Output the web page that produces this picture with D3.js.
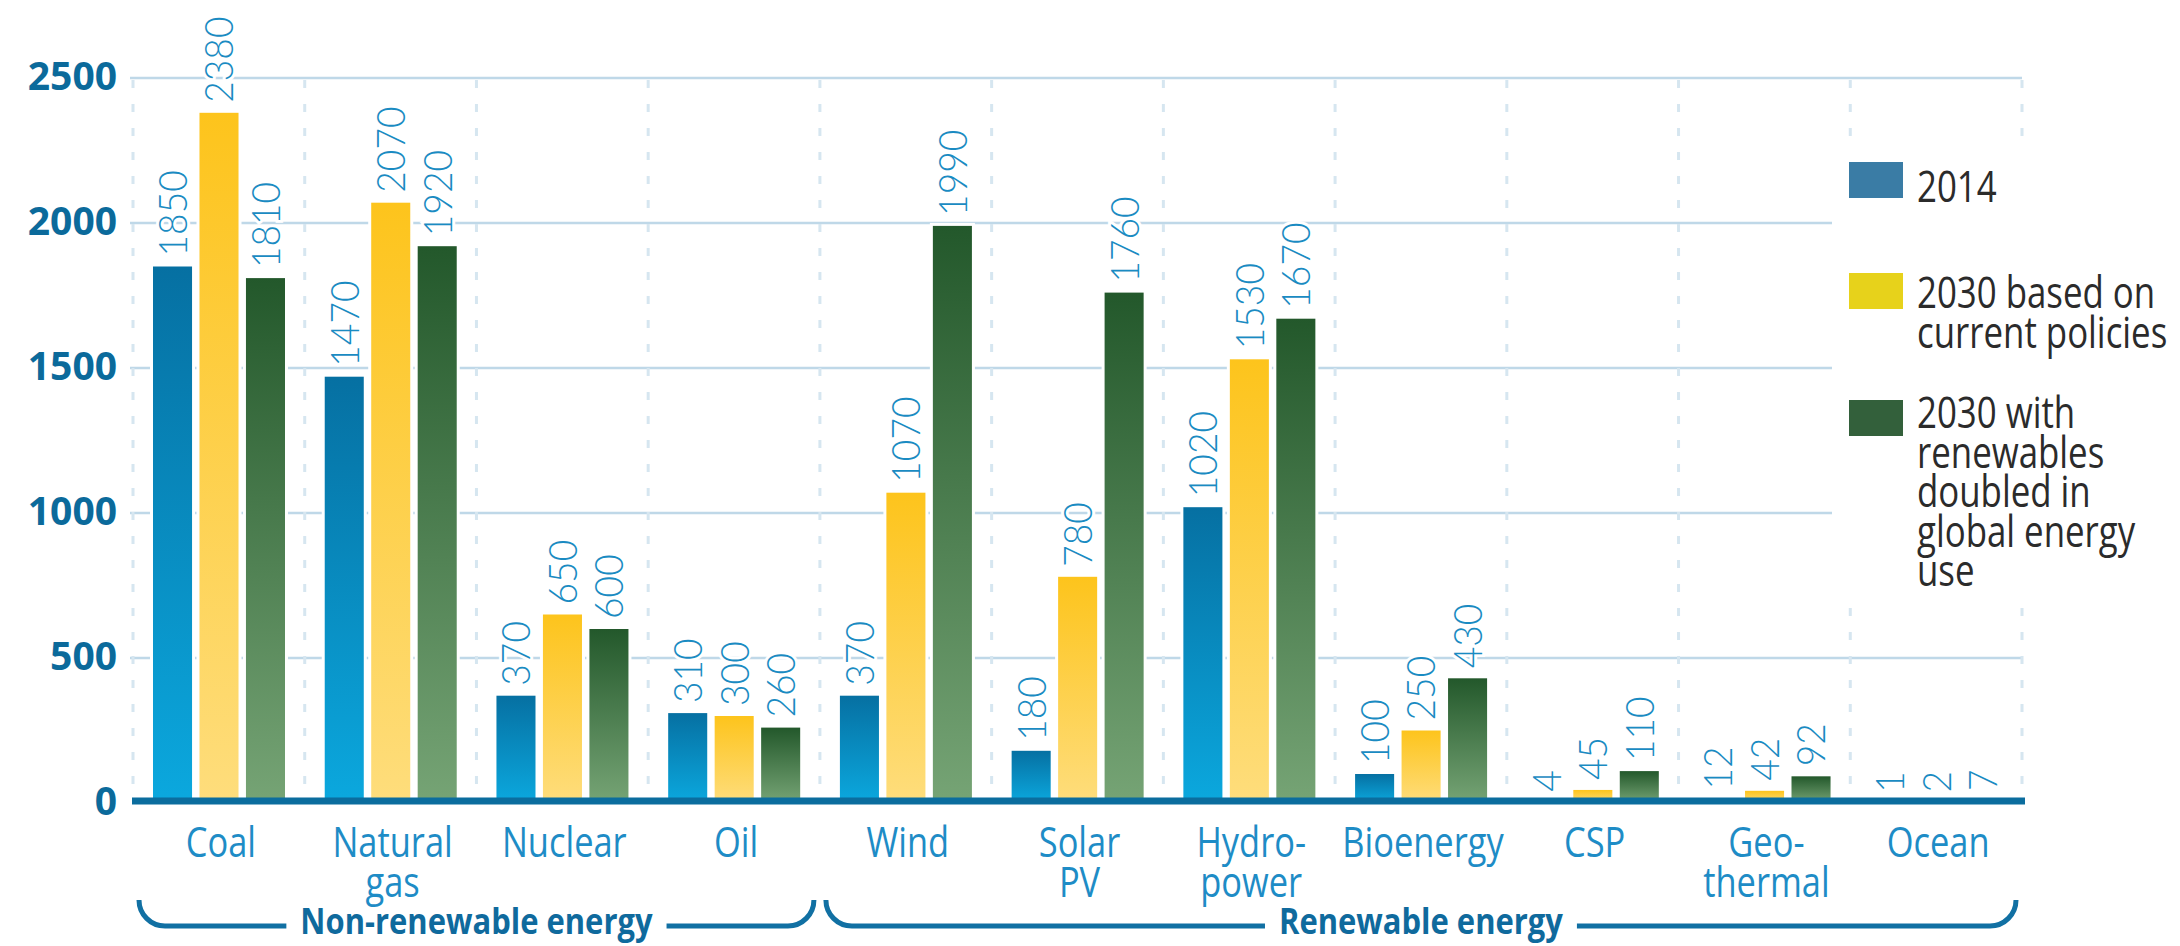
<!DOCTYPE html>
<html>
<head>
<meta charset="utf-8">
<script src="https://cdn.jsdelivr.net/npm/d3@7"></script>
<style>
  html, body { margin: 0; padding: 0; background: #ffffff; }
  svg { display: block; }
</style>
</head>
<body>
<svg id="chart" width="2180" height="946"></svg>
<script>
// Electricity generation by source, TWh
const categories = ["Coal", "Natural gas", "Nuclear", "Oil", "Wind", "Solar PV",
  "Hydropower", "Bioenergy", "CSP", "Geothermal", "Ocean"];
const categoryLines = [["Coal"], ["Natural", "gas"], ["Nuclear"], ["Oil"], ["Wind"],
  ["Solar", "PV"], ["Hydro-", "power"], ["Bioenergy"], ["CSP"], ["Geo-", "thermal"], ["Ocean"]];
const values2014 = [1850, 1470, 370, 310, 370, 180, 1020, 100, 4, 12, 1];
const values2030Current = [2380, 2070, 650, 300, 1070, 780, 1530, 250, 45, 42, 2];
const values2030Doubled = [1810, 1920, 600, 260, 1990, 1760, 1670, 430, 110, 92, 7];
const seriesKeys = ["s2014", "sCurrent", "sDoubled"];
const legendLabels = [["2014"], ["2030 based on", "current policies"],
  ["2030 with", "renewables", "doubled in", "global energy", "use"]];
const yTicks = [0, 500, 1000, 1500, 2000, 2500];
const groups = [
  { label: "Non-renewable energy", first: "Coal", last: "Oil" },
  { label: "Renewable energy", first: "Wind", last: "Ocean" }
];

const seriesValues = [values2014, values2030Current, values2030Doubled];

const svg = d3.select("#chart");
const defs = svg.append("defs");

// Horizontal squeeze applied to the condensed lettering
const SX = 0.82;

const x = d3.scaleBand().domain(categories).range([133, 2022]).padding(0);
const xInner = d3.scaleBand().domain(seriesKeys).range([20, 152]).paddingInner(0.16).paddingOuter(0);
const y = d3.scaleLinear().domain([0, 2500]).range([803, 78]);

// Vertical gradients, dark at the top of each bar
const gradients = [
  { id: "g2014", top: "#0670a2", bottom: "#0ba8de" },
  { id: "gCurrent", top: "#fdc41c", bottom: "#fedd7c" },
  { id: "gDoubled", top: "#23582b", bottom: "#76a475" }
];
gradients.forEach(g => {
  const lg = defs.append("linearGradient").attr("id", g.id)
    .attr("x1", 0).attr("y1", 0).attr("x2", 0).attr("y2", 1);
  lg.append("stop").attr("offset", "0%").attr("stop-color", g.top);
  lg.append("stop").attr("offset", "100%").attr("stop-color", g.bottom);
});
const swatchColors = ["#3a7ca5", "#e7d21b", "#33603b"];

// Horizontal gridlines
svg.append("g").selectAll("line").data(yTicks.filter(t => t > 0)).join("line")
  .attr("x1", 130).attr("x2", 2022)
  .attr("y1", d => y(d)).attr("y2", d => y(d))
  .attr("stroke", "#bfd8e8").attr("stroke-width", 2.5);

// Dashed separators between categories
const edges = categories.map(c => x(c)).concat([x.range()[1]]);
svg.append("g").selectAll("line").data(edges).join("line")
  .attr("x1", d => d).attr("x2", d => d)
  .attr("y1", y(2500) + 2).attr("y2", y(0) - 4)
  .attr("stroke", "#d6e6f0").attr("stroke-width", 3)
  .attr("stroke-dasharray", "8 16");

// Y axis tick labels
svg.append("g").selectAll("text").data(yTicks).join("text")
  .attr("x", 117).attr("y", d => y(d) + 12)
  .attr("text-anchor", "end")
  .attr("font-family", "'Open Sans', sans-serif").attr("font-weight", 700)
  .attr("font-size", 39).attr("fill", "#0b6a9b")
  .text(d => d);

// Bars
const barData = [];
categories.forEach((c, i) => {
  seriesKeys.forEach((k, j) => {
    barData.push({ cat: c, key: k, si: j, value: seriesValues[j][i] });
  });
});
const bx = d => x(d.cat) + xInner(d.key);
const bw = xInner.bandwidth();

const barsG = svg.append("g");
// white halo around every bar
barsG.selectAll("rect.halo").data(barData).join("rect").attr("class", "halo")
  .attr("x", d => bx(d) - 3).attr("width", bw + 6)
  .attr("y", d => y(d.value) - 3).attr("height", d => y(0) - y(d.value) + 3)
  .attr("fill", "#ffffff");
barsG.selectAll("rect.bar").data(barData).join("rect").attr("class", "bar")
  .attr("x", d => bx(d)).attr("width", bw)
  .attr("y", d => y(d.value)).attr("height", d => y(0) - y(d.value))
  .attr("fill", d => `url(#${gradients[d.si].id})`);

// Rotated value labels
svg.append("g").selectAll("text").data(barData).join("text")
  .attr("transform", d => `translate(${bx(d) + bw / 2},${y(d.value) - 10}) rotate(-90) scale(0.93,1)`)
  .attr("dy", "0.36em")
  .attr("text-anchor", "start")
  .attr("font-family", "Lato, sans-serif").attr("font-weight", 300)
  .attr("font-size", 40).attr("fill", "#1a8bc2")
  .attr("stroke", "#ffffff").attr("stroke-width", 6).attr("paint-order", "stroke")
  .text(d => d.value);

// Baseline
svg.append("line")
  .attr("x1", 132).attr("x2", 2025).attr("y1", y(0) - 2).attr("y2", y(0) - 2)
  .attr("stroke", "#0b6d9e").attr("stroke-width", 7);

// Category labels
const catG = svg.append("g").selectAll("g").data(categories).join("g");
catG.each(function (c, i) {
  const g = d3.select(this);
  categoryLines[i].forEach((line, li) => {
    g.append("text")
      .attr("transform", `translate(${x(c) + x.bandwidth() / 2 + 2},${857 + li * 40}) scale(${SX},1)`)
      .attr("text-anchor", "middle")
      .attr("font-family", "'Open Sans', sans-serif").attr("font-weight", 400)
      .attr("font-size", 42).attr("fill", "#1e8cc6")
      .text(line);
  });
});

// Group braces under the axis
const braceY = 926, hookTop = 900, r = 26, gap = 14;
groups.forEach(gr => {
  const a = x(gr.first) + 6;
  const b = x(gr.last) + x.bandwidth() - 6;
  const cx = (a + b) / 2;
  const t = svg.append("text")
    .attr("transform", `translate(${cx},934) scale(0.86,1)`)
    .attr("text-anchor", "middle")
    .attr("font-family", "'Open Sans', sans-serif").attr("font-weight", 700)
    .attr("font-size", 36).attr("fill", "#0f6a9d")
    .text(gr.label);
  const half = t.node().getComputedTextLength() * 0.86 / 2;
  const p = d3.path();
  p.moveTo(a, hookTop);
  p.arcTo(a, braceY, a + r, braceY, r);
  p.lineTo(cx - half - gap, braceY);
  p.moveTo(cx + half + gap, braceY);
  p.lineTo(b - r, braceY);
  p.arcTo(b, braceY, b, hookTop, r);
  p.lineTo(b, hookTop);
  svg.append("path").attr("d", p.toString())
    .attr("fill", "none").attr("stroke", "#1170a3").attr("stroke-width", 5);
});

// Legend on a white panel
const legend = svg.append("g");
legend.append("rect").attr("x", 1832).attr("y", 140).attr("width", 348).attr("height", 456)
  .attr("fill", "#ffffff");
const swatchY = [162, 273, 400];
const textY = [202, 308, 428];
legendLabels.forEach((lines, i) => {
  legend.append("rect").attr("x", 1849).attr("y", swatchY[i])
    .attr("width", 54).attr("height", 36).attr("fill", swatchColors[i]);
  lines.forEach((line, li) => {
    legend.append("text")
      .attr("transform", `translate(1917,${textY[i] + li * 39.5}) scale(0.81,1)`)
      .attr("font-family", "'Open Sans', sans-serif").attr("font-weight", 400)
      .attr("font-size", 43).attr("fill", "#2b2b2b")
      .text(line);
  });
});
</script>
</body>
</html>
